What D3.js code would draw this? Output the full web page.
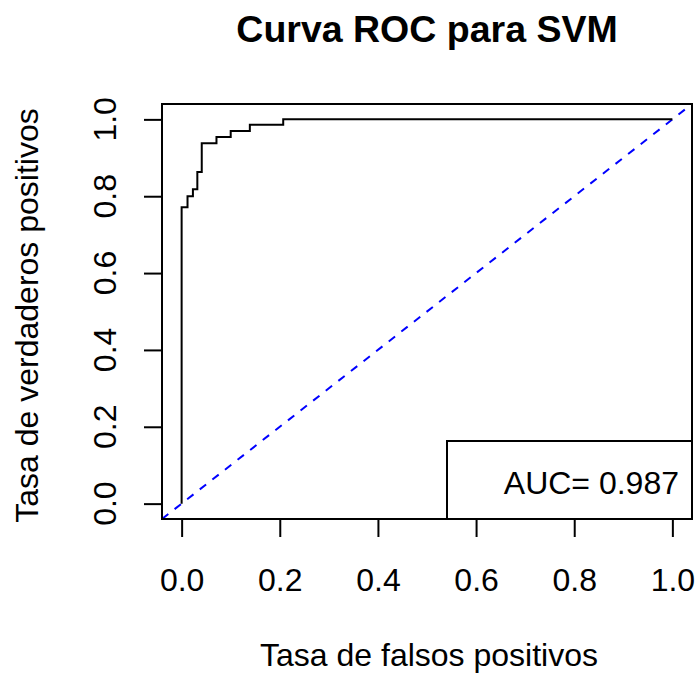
<!DOCTYPE html>
<html>
<head>
<meta charset="utf-8">
<script src="https://cdn.jsdelivr.net/npm/d3@7"></script>
<style>
  html, body { margin: 0; padding: 0; background: #fff; }
  svg { display: block; }
  text { font-family: "Liberation Sans", Arial, Helvetica, sans-serif; fill: #000; }
</style>
</head>
<body>
<svg id="chart" width="697" height="673"></svg>
<script>
// ROC curve corner points (false positive rate, true positive rate)
const fpr = [0, 0, 0.012, 0.012, 0.023, 0.023, 0.032, 0.032, 0.041, 0.041, 0.071, 0.071, 0.100, 0.100, 0.139, 0.139, 0.207, 0.207, 1.0];
const tpr = [0, 0.771, 0.771, 0.800, 0.800, 0.818, 0.818, 0.863, 0.863, 0.938, 0.938, 0.954, 0.954, 0.970, 0.970, 0.986, 0.986, 1.0, 1.0];
const xTicks = [0, 0.2, 0.4, 0.6, 0.8, 1.0];
const yTicks = [0, 0.2, 0.4, 0.6, 0.8, 1.0];
const title = "Curva ROC para SVM";
const xLabel = "Tasa de falsos positivos";
const yLabel = "Tasa de verdaderos positivos";
const aucLabel = "AUC= 0.987";

const svg = d3.select("#chart");
const L = 162, R = 692, T = 104, B = 519;
const x = d3.scaleLinear().domain([-0.04, 1.04]).range([L, R]);
const y = d3.scaleLinear().domain([-0.04, 1.04]).range([B, T]);
const fmt = d3.format(".1f");
const FS = "32px";

// clip
svg.append("clipPath").attr("id", "clip")
  .append("rect").attr("x", L).attr("y", T).attr("width", R - L).attr("height", B - T);

// Title
svg.append("text").attr("x", (L + R) / 2).attr("y", 42)
  .attr("text-anchor", "middle").style("font-size", "37.5px").style("font-weight", "bold")
  .text(title);

// X axis
const xAxis = d3.axisBottom(x).tickValues(xTicks).tickSize(18).tickFormat(fmt);
const gx = svg.append("g").attr("transform", `translate(0,${B})`).call(xAxis);
gx.select(".domain").remove();
gx.attr("font-family", null).attr("font-size", null);
gx.selectAll(".tick line").attr("stroke", "#000").attr("stroke-width", 2);
gx.selectAll(".tick text").style("font-size", FS).attr("fill", "#000")
  .attr("y", 72).attr("dy", "0");
gx.append("line").attr("x1", x(0)).attr("x2", x(1)).attr("y1", 0).attr("y2", 0)
  .attr("stroke", "#000").attr("stroke-width", 2);

// Y axis
const yAxis = d3.axisLeft(y).tickValues(yTicks).tickSize(18).tickFormat("");
const gy = svg.append("g").attr("transform", `translate(${L},0)`).call(yAxis);
gy.select(".domain").remove();
gy.attr("font-family", null).attr("font-size", null);
gy.selectAll(".tick line").attr("stroke", "#000").attr("stroke-width", 2);
svg.append("g").selectAll("text").data(yTicks).join("text")
  .attr("transform", d => `translate(116,${y(d)}) rotate(-90)`)
  .attr("text-anchor", "middle").style("font-size", FS)
  .text(d => fmt(d));

// Axis labels
svg.append("text").attr("x", (L + R) / 2 + 2).attr("y", 666)
  .attr("text-anchor", "middle").style("font-size", FS).text(xLabel);
svg.append("text").attr("transform", `translate(38,${(T + B) / 2 + 4}) rotate(-90)`)
  .attr("text-anchor", "middle").style("font-size", FS).text(yLabel);

// Diagonal reference line
svg.append("line")
  .attr("clip-path", "url(#clip)")
  .attr("x1", x(-0.04)).attr("y1", y(-0.04)).attr("x2", x(1.04)).attr("y2", y(1.04))
  .attr("stroke", "#0000ff").attr("stroke-width", 2).attr("stroke-dasharray", "8,8");

// ROC curve
const pts = fpr.map((f, i) => [f, tpr[i]]);
svg.append("path").datum(pts)
  .attr("d", d3.line().x(d => x(d[0])).y(d => y(d[1])))
  .attr("fill", "none").attr("stroke", "#000").attr("stroke-width", 2)
  .attr("stroke-linejoin", "miter").attr("clip-path", "url(#clip)");

// Legend box
svg.append("rect").attr("x", 447).attr("y", 441).attr("width", R - 447).attr("height", B - 441)
  .attr("fill", "#fff").attr("stroke", "#000").attr("stroke-width", 2);
svg.append("text").attr("x", 679).attr("y", 494).attr("text-anchor", "end")
  .style("font-size", FS).text(aucLabel);

// Plot box
svg.append("rect").attr("x", L).attr("y", T).attr("width", R - L).attr("height", B - T)
  .attr("fill", "none").attr("stroke", "#000").attr("stroke-width", 2);
</script>
</body>
</html>
